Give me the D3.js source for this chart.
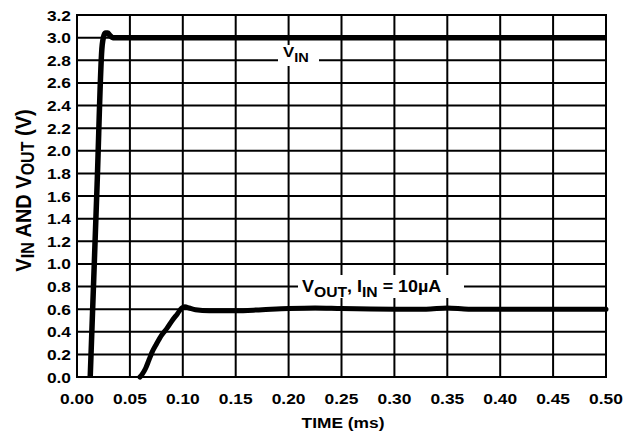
<!DOCTYPE html>
<html><head><meta charset="utf-8">
<script src="https://cdn.jsdelivr.net/npm/d3@7"></script>
<style>body{margin:0;background:#fff}svg{display:block}text{font-family:"Liberation Sans",Arial,sans-serif;font-weight:bold;fill:#000}</style>
</head><body><svg id="c" width="642" height="436"></svg>
<script>
const xTicks = [0,0.05,0.10,0.15,0.20,0.25,0.30,0.35,0.40,0.45,0.50];
const yTicks = [0,0.2,0.4,0.6,0.8,1.0,1.2,1.4,1.6,1.8,2.0,2.2,2.4,2.6,2.8,3.0,3.2];
const vinT = [0.0125,0.019,0.0235,0.0255,0.027,0.029,0.031,0.034,0.5];
const vinV = [0,1.7,2.9,3.02,3.04,3.04,3.02,3.0,3.0];
const voutT = [0.0595,0.062,0.065,0.068,0.071,0.075,0.080,0.085,0.090,0.095,0.099,0.102,0.106,0.112,0.125,0.15,0.175,0.2,0.225,0.25,0.3,0.33,0.35,0.37,0.5];
const voutV = [0,0.03,0.08,0.15,0.22,0.29,0.37,0.43,0.50,0.56,0.61,0.62,0.61,0.595,0.585,0.585,0.595,0.605,0.61,0.605,0.6,0.6,0.61,0.6,0.6];

const svg = d3.select("#c");
const L=77,R=606,T=15,B=377;
const x = d3.scaleLinear().domain([0,0.5]).range([L,R]);
const y = d3.scaleLinear().domain([0,3.2]).range([B,T]);
const SX = 1.12;

// grid
svg.append("g").selectAll("line").data(xTicks).join("line")
  .attr("x1",d=>x(d)).attr("x2",d=>x(d)).attr("y1",T).attr("y2",B)
  .attr("stroke","#000").attr("stroke-width",2);
svg.append("g").selectAll("line").data(yTicks).join("line")
  .attr("x1",L).attr("x2",R).attr("y1",d=>y(d)).attr("y2",d=>y(d))
  .attr("stroke","#000").attr("stroke-width",2);
svg.append("rect").attr("x",L).attr("y",T).attr("width",R-L).attr("height",B-T)
  .attr("fill","none").attr("stroke","#000").attr("stroke-width",2);

// tick labels
svg.append("g").selectAll("text").data(xTicks).join("text")
  .attr("transform",d=>`translate(${x(d)},404) scale(${SX},1)`)
  .attr("text-anchor","middle").attr("font-size",15.5).text(d=>d.toFixed(2));
svg.append("g").selectAll("text").data(yTicks).join("text")
  .attr("transform",d=>`translate(71,${y(d)+5.5}) scale(${SX},1)`)
  .attr("text-anchor","end").attr("font-size",15.5).text(d=>d.toFixed(1));

// axis titles
svg.append("text").attr("transform",`translate(343,428) scale(${SX},1)`)
  .attr("text-anchor","middle").attr("font-size",15.5).text("TIME (ms)");
const yt = svg.append("text").attr("transform",`translate(31,190.5) scale(${SX},1) rotate(-90)`)
  .attr("text-anchor","middle").attr("font-size",20);
yt.append("tspan").text("V");
yt.append("tspan").attr("font-size",16).attr("dy",3).text("IN");
yt.append("tspan").attr("dy",-3).text(" AND V");
yt.append("tspan").attr("font-size",16).attr("dy",3).text("OUT");
yt.append("tspan").attr("dy",-3).text(" (V)");

// curves
const line = d3.line().x(d=>x(d[0])).y(d=>y(d[1])).curve(d3.curveMonotoneX);
svg.append("path").datum(vinT.map((t,i)=>[t,vinV[i]])).attr("d",line)
  .attr("fill","none").attr("stroke","#000").attr("stroke-width",5.5).attr("stroke-linejoin","round");
svg.append("path").datum(voutT.map((t,i)=>[t,voutV[i]])).attr("d",line)
  .attr("fill","none").attr("stroke","#000").attr("stroke-width",5).attr("stroke-linejoin","round").attr("stroke-linecap","round");

// labels
svg.append("rect").attr("x",278).attr("y",45).attr("width",41).attr("height",21).attr("fill","#fff");
const l1 = svg.append("text").attr("transform",`translate(283,57) scale(${SX},1)`).attr("font-size",15);
l1.append("tspan").text("V");
l1.append("tspan").attr("font-size",13).attr("dy",5).text("IN");

svg.append("rect").attr("x",298).attr("y",275).attr("width",166).attr("height",23).attr("fill","#fff");
const l2 = svg.append("text").attr("transform",`translate(302,292) scale(${SX},1)`).attr("font-size",16);
l2.append("tspan").text("V");
l2.append("tspan").attr("font-size",14).attr("dy",5).text("OUT");
l2.append("tspan").attr("dy",-5).text(", I");
l2.append("tspan").attr("font-size",14).attr("dy",5).text("IN");
l2.append("tspan").attr("dy",-5).text(" = 10µA");
</script></body></html>
